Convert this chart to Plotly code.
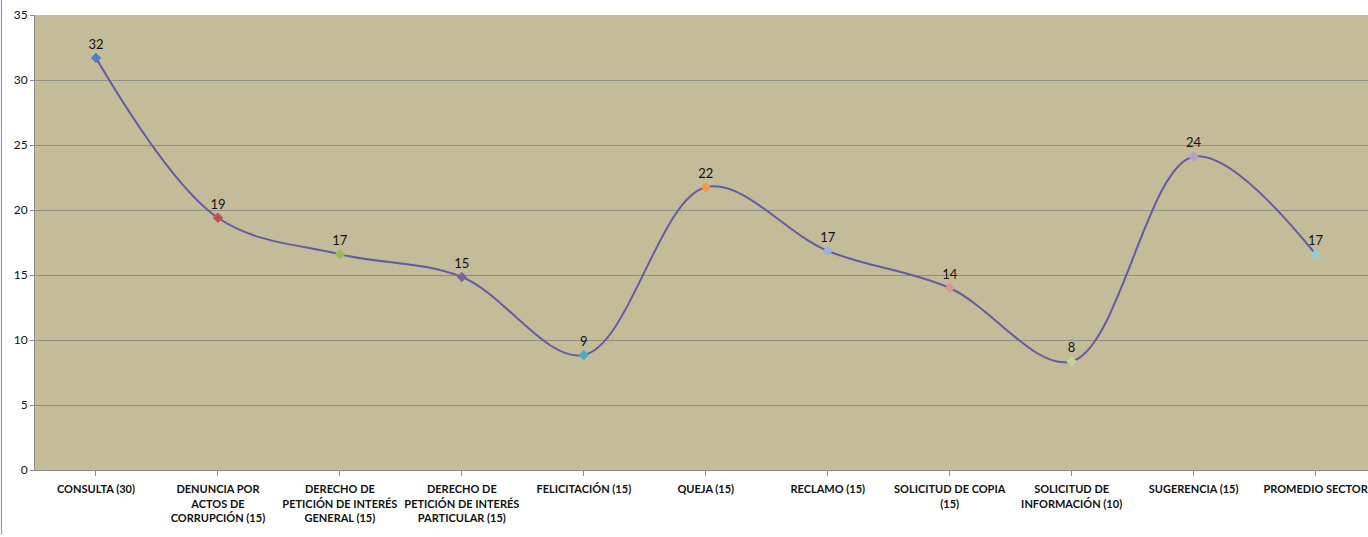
import plotly.graph_objects as go

# Categories (tipo de petición) and their average response times
categorias = [
    "CONSULTA (30)",
    "DENUNCIA POR<br>ACTOS DE<br>CORRUPCIÓN (15)",
    "DERECHO DE<br>PETICIÓN DE INTERÉS<br>GENERAL (15)",
    "DERECHO DE<br>PETICIÓN DE INTERÉS<br>PARTICULAR (15)",
    "FELICITACIÓN (15)",
    "QUEJA (15)",
    "RECLAMO (15)",
    "SOLICITUD DE COPIA<br>(15)",
    "SOLICITUD DE<br>INFORMACIÓN (10)",
    "SUGERENCIA (15)",
    "PROMEDIO SECTOR",
]
valores = [31.7, 19.4, 16.6, 14.85, 8.85, 21.75, 16.85, 14.0, 8.35, 24.1, 16.6]
etiquetas = [f"{round(v)}" for v in valores]

colores_punto = [
    "#4F81BD", "#C0504D", "#9BBB59", "#8064A2", "#4BACC6", "#F79646",
    "#95B3D7", "#D99694", "#C3D69B", "#B2A1C7", "#92CDDC",
]

FONT = "Lato, 'Open Sans', sans-serif"
x_idx = list(range(len(categorias)))

fig = go.Figure()
fig.add_trace(go.Scatter(
    x=x_idx,
    y=valores,
    mode="lines+markers+text",
    line=dict(color="#625DA2", width=2, shape="spline", smoothing=1.0),
    marker=dict(symbol="diamond", size=8, color=colores_punto, line=dict(width=0)),
    text=etiquetas,
    textposition="top center",
    textfont=dict(family=FONT, size=13, color="#111111"),
    cliponaxis=False,
    hoverinfo="skip",
))

fig.update_layout(
    width=1368,
    height=537,
    margin=dict(l=35, r=0, t=15, b=67),
    paper_bgcolor="white",
    plot_bgcolor="#C4BC98",
    showlegend=False,
    font=dict(family=FONT, color="#111111"),
    xaxis=dict(
        tickmode="array",
        tickvals=x_idx,
        ticktext=categorias,
        range=[-0.5, 10.43],
        showgrid=False,
        zeroline=False,
        showline=True,
        linecolor="#8C8C8C",
        linewidth=1,
        ticks="outside",
        tickson="boundaries",
        ticklen=5,
        tickcolor="#8C8C8C",
        tickangle=0,
        ticklabelstandoff=4,
        ticklabeloverflow="allow",
        tickfont=dict(family=FONT, size=11, color="#111111", weight="bold"),
    ),
    yaxis=dict(
        range=[0, 35],
        dtick=5,
        showgrid=True,
        gridcolor="#8F8E84",
        gridwidth=1,
        zeroline=False,
        showline=True,
        linecolor="#8C8C8C",
        linewidth=1,
        ticks="outside",
        ticklen=4,
        tickcolor="#8C8C8C",
        tickfont=dict(family=FONT, size=12, color="#111111"),
    ),
    shapes=[
        # outer chart border on the left edge
        dict(type="line", xref="paper", yref="paper",
             x0=-0.0252, x1=-0.0252, y0=1.04, y1=-0.142,
             line=dict(color="#8C8C8C", width=1)),
    ],
)

fig.write_html("out.html")
